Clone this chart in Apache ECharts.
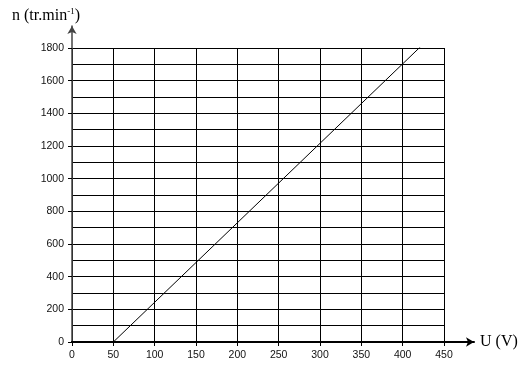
<!DOCTYPE html>
<html><head><meta charset="utf-8">
<script src="https://cdn.jsdelivr.net/npm/echarts@6/dist/echarts.min.js"></script>
<style>html,body{margin:0;padding:0;background:#fff}#c{width:524px;height:375px}</style>
</head><body><div id="c"></div>
<script>
const uValues = [50, 422];
const nValues = [0, 1810];
const xTicks = [0, 50, 100, 150, 200, 250, 300, 350, 400, 450];
const yTicks = [0, 200, 400, 600, 800, 1000, 1200, 1400, 1600, 1800];
const xTitle = 'U (V)';
const yTitleMain = 'n (tr.min';
const yTitleSup = '-1';

const chart = echarts.init(document.getElementById('c'), null, {renderer: 'canvas'});
const lab = {fontFamily: 'Liberation Sans, Arial, sans-serif', fontSize: 10.5, color: '#111', formatter: v => String(v)};
const gridLine = {show: true, lineStyle: {color: '#000', width: 1, type: 'solid'}};
const serif = 'Liberation Serif, Times New Roman, serif';
chart.setOption({
  animation: false,
  backgroundColor: '#fff',
  grid: [
    {left: 72, right: 80, top: 48, bottom: 33, containLabel: false},
    {left: 72, right: 50, top: 26, bottom: 33, containLabel: false}
  ],
  xAxis: [
    {gridIndex: 0, type: 'value', min: xTicks[0], max: xTicks[xTicks.length-1], interval: 50,
     axisLine: {show: true, onZero: false, lineStyle: {color: '#000', width: 2}},
     axisTick: {show: true, length: 4, lineStyle: {color: '#000'}},
     axisLabel: Object.assign({margin: 8}, lab),
     splitLine: gridLine},
    {gridIndex: 1, type: 'value', min: 0, max: 1,
     axisLine: {show: true, onZero: false, symbol: ['none', 'arrow'], symbolSize: [7, 8], symbolOffset: [0, 0], lineStyle: {color: '#000', width: 2}},
     axisTick: {show: false}, axisLabel: {show: false}, splitLine: {show: false},
     name: xTitle, nameLocation: 'end', nameGap: 6,
     nameTextStyle: {fontFamily: serif, fontSize: 16, color: '#000', verticalAlign: 'middle'}}
  ],
  yAxis: [
    {gridIndex: 0, type: 'value', min: yTicks[0], max: yTicks[yTicks.length-1], interval: 200,
     axisLine: {show: false},
     axisTick: {show: true, length: 4, lineStyle: {color: '#000'}},
     axisLabel: Object.assign({margin: 8}, lab),
     splitLine: gridLine,
     minorTick: {show: false, splitNumber: 2},
     minorSplitLine: {show: true, lineStyle: {color: '#000', width: 1}}},
    {gridIndex: 1, type: 'value', min: 0, max: 1,
     axisLine: {show: true, onZero: false, symbol: ['none', 'arrow'], symbolSize: [7, 8], symbolOffset: [0, 0], lineStyle: {color: '#444', width: 1.5}},
     axisTick: {show: false}, axisLabel: {show: false}, splitLine: {show: false},
     name: '{m|' + yTitleMain + '}{s|' + yTitleSup + '}{m|)}', nameLocation: 'end', nameGap: 1,
     nameTextStyle: {align: 'center', padding: [0, 52, 0, 0],
       rich: {m: {fontFamily: serif, fontSize: 16, color: '#000'},
              s: {fontFamily: serif, fontSize: 9, color: '#000', padding: [0, 0, 9, 0]}}}}
  ],
  series: [{
    type: 'line', xAxisIndex: 0, yAxisIndex: 0, symbol: 'none',
    lineStyle: {color: '#000', width: 1},
    data: uValues.map((u, i) => [u, nValues[i]])
  }]
});
</script></body></html>
